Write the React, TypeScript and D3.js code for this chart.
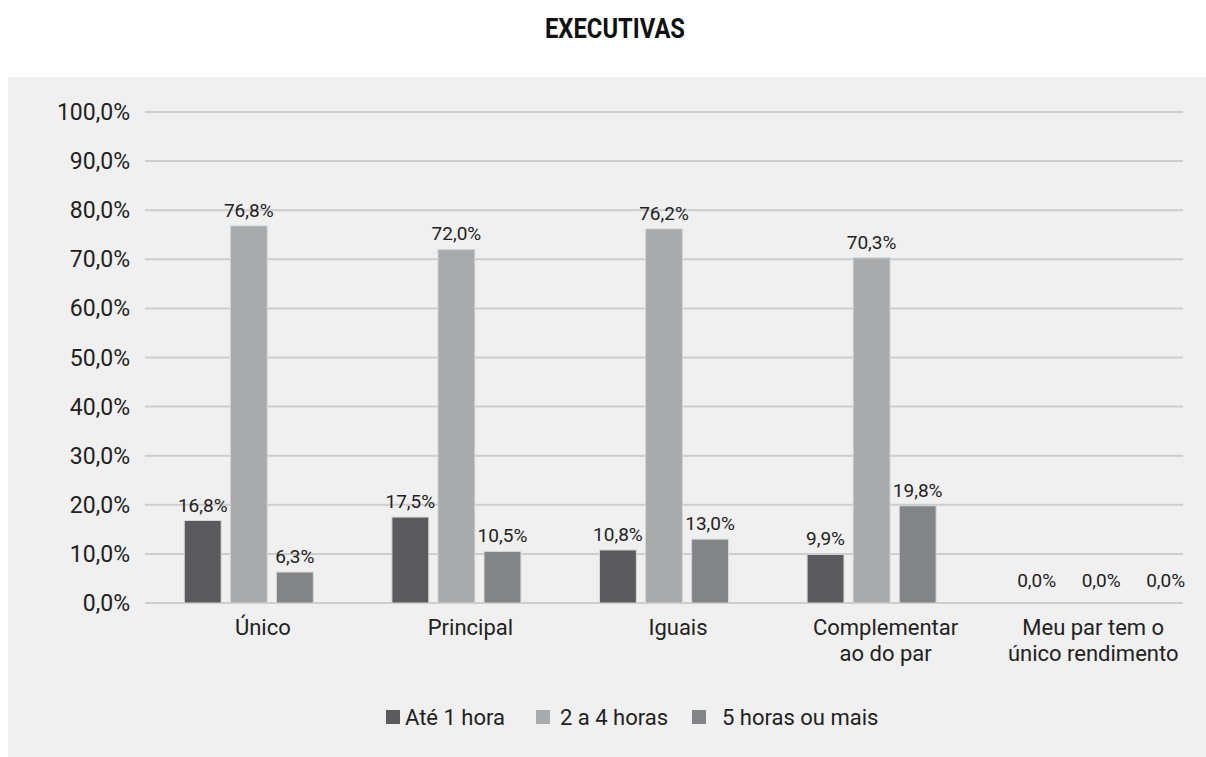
import React from "react";
import * as d3 from "d3";

const categories: string[][] = [
  ["Único"],
  ["Principal"],
  ["Iguais"],
  ["Complementar", "ao do par"],
  ["Meu par tem o", "único rendimento"],
];
const seriesNames = ["Até 1 hora", "2 a 4 horas", "5 horas ou mais"];
const ate1hora = [16.8, 17.5, 10.8, 9.9, 0.0];
const de2a4horas = [76.8, 72.0, 76.2, 70.3, 0.0];
const cincoOuMais = [6.3, 10.5, 13.0, 19.8, 0.0];
const yTicks = [0, 10, 20, 30, 40, 50, 60, 70, 80, 90, 100];
const colors = ["#5b5a5e", "#a9aaab", "#818586"];

const FONT = "Roboto, 'Liberation Sans', sans-serif";

export default function App() {
  const W = 1206, H = 757;
  const left = 145, right = 1183, top = 112, bottom = 603;
  const series = [ate1hora, de2a4horas, cincoOuMais];
  const catKeys = categories.map((c) => c.join(" "));
  const x0 = d3.scaleBand<string>().domain(catKeys).range([left, right]).padding(0);
  const groupW = 129;
  const x1 = d3.scaleBand<string>().domain(seriesNames).range([0, groupW]).paddingInner(0.2);
  const y = d3.scaleLinear().domain([0, 100]).range([bottom, top]);
  const fmt = (v: number) => v.toFixed(1).replace(".", ",") + "%";
  const legendX = [386, 536, 692];
  const legendTextX = [405, 560, 722];

  return (
    <svg width={W} height={H} style={{ position: "absolute", left: 0, top: 0, display: "block" }}>
      <rect x={0} y={0} width={W} height={H} fill="#ffffff" />
      <rect x={8} y={77} width={W - 8} height={H - 77} fill="#f0f0f0" />
      <text x={545} y={38} textLength={140} lengthAdjust="spacingAndGlyphs" fontFamily={FONT} fontWeight="bold" fontSize={27} fill="#111">
        EXECUTIVAS
      </text>
      {yTicks.map((t) => (
        <g key={t}>
          <line x1={left} x2={right} y1={y(t)} y2={y(t)} stroke="#cdcdcd" strokeWidth={2} />
          <text x={130} y={y(t) + 8} textAnchor="end" fontFamily={FONT} fontSize={23} fill="#222">
            {fmt(t)}
          </text>
        </g>
      ))}
      {catKeys.map((k, ci) => {
        const gx = (x0(k) as number) + (x0.bandwidth() - groupW) / 2;
        const gc = (x0(k) as number) + x0.bandwidth() / 2;
        return (
          <g key={k}>
            {series.map((s, si) => {
              const bx = gx + (x1(seriesNames[si]) as number);
              const v = s[ci];
              const by = y(v);
              const lx = v > 0 ? bx + x1.bandwidth() / 2 : gc + 22 + (si - 1) * 64.5;
              const ly = v > 0 ? by - 9 : by - 16;
              return (
                <g key={si}>
                  {v > 0 && (
                    <rect x={bx} y={by} width={x1.bandwidth()} height={bottom - by} fill={colors[si]} stroke="#d6d6d6" strokeWidth={1} />
                  )}
                  <text x={lx} y={ly} textAnchor="middle" fontFamily={FONT} fontSize={19} fill="#222">
                    {fmt(v)}
                  </text>
                </g>
              );
            })}
            {categories[ci].map((line, li) => (
              <text key={li} x={gc + 14} y={635 + li * 26} textAnchor="middle" fontFamily={FONT} fontSize={22} fill="#222">
                {line}
              </text>
            ))}
          </g>
        );
      })}
      {seriesNames.map((n, i) => (
        <g key={n}>
          <rect x={legendX[i]} y={710} width={14} height={14} fill={colors[i]} />
          <text x={legendTextX[i]} y={725} fontFamily={FONT} fontSize={22} fill="#222">
            {n}
          </text>
        </g>
      ))}
    </svg>
  );
}
